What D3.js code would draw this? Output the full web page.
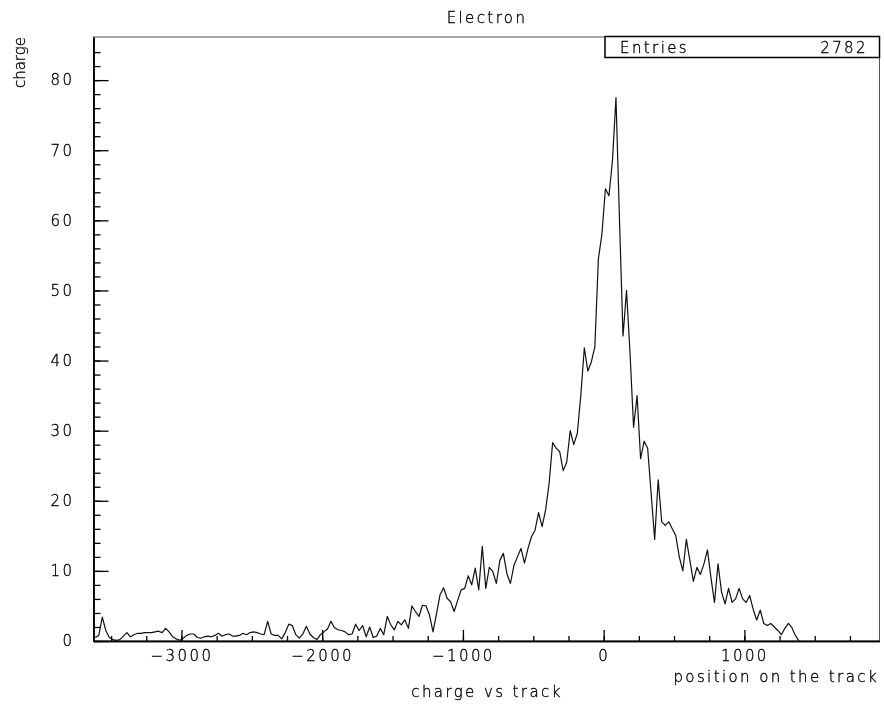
<!DOCTYPE html>
<html>
<head>
<meta charset="utf-8">
<script src="https://cdn.jsdelivr.net/npm/d3@7"></script>
<style>
  html, body { margin: 0; padding: 0; background: #fff; }
  svg { will-change: transform; }
  svg text { font-family: "DejaVu Sans", sans-serif; font-weight: 200; font-size: 15px; fill: #000; stroke: #000; stroke-width: 0.35px; letter-spacing: 2.4px; }
</style>
</head>
<body>
<svg id="chart" width="884" height="705"></svg>
<script>
// ---- data ----
const binStart = -3625;
const binWidth = 25;
const charge = [
  0.5, 0.8, 3.4, 1.5, 0.5, 0.2, 0.1, 0.2, 0.7, 1.2,
  0.6, 0.9, 1.1, 1.1, 1.2, 1.2, 1.2, 1.3, 1.4, 1.2,
  1.8, 1.3, 0.6, 0.3, 0.1, 0.4, 0.8, 1.0, 1.0, 0.5,
  0.4, 0.6, 0.7, 0.6, 0.8, 1.1, 0.7, 0.9, 1.0, 0.7,
  0.7, 0.8, 1.1, 0.9, 1.2, 1.3, 1.2, 1.0, 0.9, 2.8,
  1.0, 0.8, 0.8, 0.3, 1.2, 2.4, 2.2, 0.9, 0.4, 1.0,
  2.1, 1.0, 0.5, 0.2, 0.9, 1.3, 1.7, 2.8, 1.9, 1.6,
  1.5, 1.3, 0.9, 1.0, 2.4, 1.5, 2.2, 0.6, 2.0, 0.5,
  0.7, 1.8, 0.9, 3.5, 2.3, 1.6, 2.8, 2.3, 3.0, 1.8,
  5.0, 4.2, 3.5, 5.1, 5.0, 3.7, 1.3, 3.9, 6.6, 7.6,
  6.1, 5.6, 4.2, 5.8, 7.3, 7.5, 9.3, 8.0, 10.4, 7.3,
  13.5, 7.5, 10.5, 9.9, 8.2, 11.5, 12.5, 9.6, 8.2, 10.8,
  12.0, 13.2, 11.1, 13.2, 14.9, 15.8, 18.3, 16.3, 18.7, 22.5,
  28.3, 27.5, 27.0, 24.3, 25.5, 30.0, 28.0, 29.6, 35.0, 41.8,
  38.5, 39.8, 42.0, 54.5, 58.0, 64.5, 63.5, 68.5, 77.5, 60.0,
  43.5, 50.0, 41.0, 30.5, 35.0, 26.0, 28.5, 27.5, 21.0, 14.5,
  23.0, 17.0, 16.5, 17.0, 16.0, 15.0, 12.0, 10.0, 14.5, 11.5,
  8.5, 10.5, 9.5, 11.0, 13.0, 9.0, 5.5, 11.0, 7.0, 5.3,
  7.5, 5.5, 6.0, 7.5, 6.0, 5.5, 6.5, 4.5, 3.0, 4.4,
  2.5, 2.2, 2.5, 2.0, 1.5, 0.9, 1.8, 2.5, 1.9, 0.8,
  0
];
const xDomain = [-3625, 1960];
const yDomain = [0, 86.15];
const xMajorTicks = [-3000, -2000, -1000, 0, 1000];
const xMinorTicks = d3.range(-3500, 1960, 250);
const yMajorTicks = [0, 10, 20, 30, 40, 50, 60, 70, 80];
const yMinorTicks = d3.range(0, 86, 2);
const title = "Electron";
const xTitle = "position on the track";
const yTitle = "charge";
const subTitle = "charge vs track";
const statsLabel = "Entries";
const statsValue = "2782";

// ---- layout ----
const L = 93.5, R = 879.5, T = 37, B = 641;
const svg = d3.select("#chart");
const x = d3.scaleLinear().domain(xDomain).range([L, R]);
const y = d3.scaleLinear().domain(yDomain).range([B, T]);
const fmt = d3.format("d");

// frame
svg.append("rect").attr("x", L).attr("y", T).attr("width", R - L).attr("height", B - T)
  .attr("fill", "none").attr("stroke", "#555").attr("stroke-width", 1);

// histogram contour
svg.append("defs").append("clipPath").attr("id", "clip")
  .append("rect").attr("x", L).attr("y", T).attr("width", R - L).attr("height", B - T);
const pts = charge.map((v, i) => [binStart + binWidth * (i + 0.5), v]);
svg.append("path").datum(pts)
  .attr("clip-path", "url(#clip)")
  .attr("fill", "none").attr("stroke", "#111").attr("stroke-width", 1.2)
  .attr("stroke-linejoin", "round")
  .attr("d", d3.line().x(d => x(d[0])).y(d => y(d[1])));

// x axis
const gx = svg.append("g").attr("transform", `translate(0,${B})`);
gx.call(d3.axisBottom(x).tickValues(xMinorTicks).tickSize(-5).tickSizeOuter(0).tickFormat(""));
gx.append("g").call(d3.axisBottom(x).tickValues(xMajorTicks).tickSize(-11).tickSizeOuter(0).tickPadding(9).tickFormat(fmt));
gx.selectAll(".domain").attr("stroke", "#000").attr("stroke-width", 1.5);
gx.selectAll("line").attr("stroke", "#000").attr("stroke-width", 1.3);
gx.selectAll("text").attr("fill", "#000").style("font-size", "15px").attr("font-family", null);

// y axis
const gy = svg.append("g").attr("transform", `translate(${L},0)`);
gy.call(d3.axisLeft(y).tickValues(yMinorTicks).tickSize(-7).tickSizeOuter(0).tickFormat(""));
gy.append("g").call(d3.axisLeft(y).tickValues(yMajorTicks).tickSize(-15).tickSizeOuter(0).tickPadding(19).tickFormat(fmt));
gy.selectAll(".domain").attr("stroke", "#000").attr("stroke-width", 1.5);
gy.selectAll("line").attr("stroke", "#000").attr("stroke-width", 1.3);
gy.selectAll("text").attr("fill", "#000").style("font-size", "15px").attr("font-family", null);

// titles
svg.append("text").attr("x", 487).attr("y", 23).attr("text-anchor", "middle").text(title);
svg.append("text").attr("transform", "translate(25,37) rotate(-90)").attr("text-anchor", "end")
  .style("letter-spacing", "0px").text(yTitle);
svg.append("text").attr("x", 879).attr("y", 682).attr("text-anchor", "end").text(xTitle);
svg.append("text").attr("x", 487).attr("y", 697).attr("text-anchor", "middle").text(subTitle);

// stats box
svg.append("rect").attr("x", 605).attr("y", 36.5).attr("width", 274.5).attr("height", 21)
  .attr("fill", "#fff").attr("stroke", "#000").attr("stroke-width", 1.5);
svg.append("text").attr("x", 620).attr("y", 53).text(statsLabel);
svg.append("text").attr("x", 868).attr("y", 53).attr("text-anchor", "end").text(statsValue);
</script>
</body>
</html>
